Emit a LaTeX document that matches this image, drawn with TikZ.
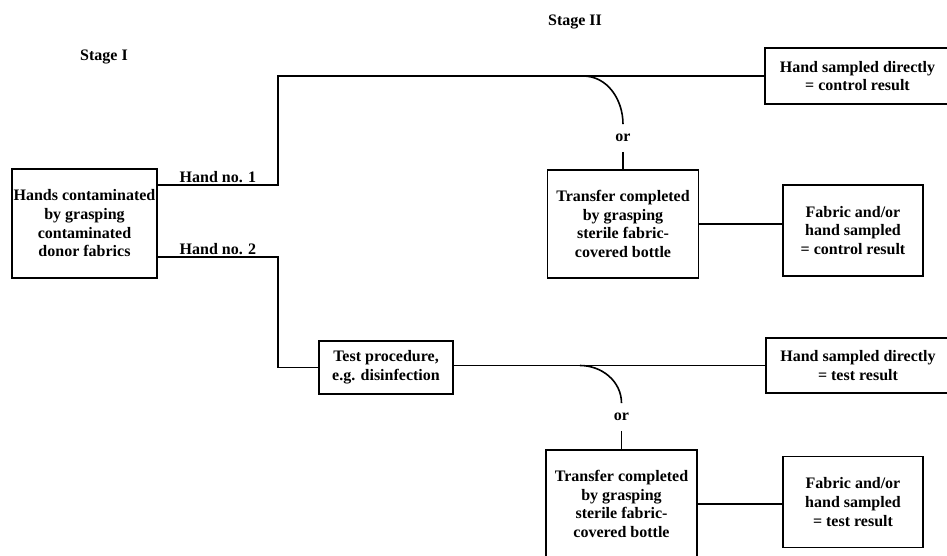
\documentclass[tikz,border=0pt]{standalone}
\usepackage{fontspec}
\setmainfont{Liberation Serif}
\usetikzlibrary{positioning}

\begin{document}
\begin{tikzpicture}[x=0.75pt,y=-0.75pt,line width=1.2pt,
  font=\fontsize{12}{14}\selectfont\bfseries,
  bx/.style={draw,rectangle,align=center,inner sep=1pt},
  lbl/.style={inner sep=1pt},
  orlbl/.style={inner sep=0pt,minimum height=19.5pt}]
\useasboundingbox (0,0) rectangle (947,556);
\clip (0,0) rectangle (947,556);
\node[lbl] (st1) at (104,57) {Stage I};
\node[lbl] (st2) at (575,22) {Stage II};
\node[bx,minimum width=108.75pt,minimum height=81.75pt] (donor) at (84.5,223.5)
  {Hands contaminated\\by grasping\\contaminated\\donor fabrics};
\node[bx,minimum width=100.5pt,minimum height=39.75pt] (test) at (386,367.5)
  {Test procedure,\\e.g. disinfection};
\node[bx,minimum width=138.75pt,minimum height=42pt] (ctrlD) at (857.5,76)
  {Hand sampled directly\\= control result};
\node[bx,minimum width=113.25pt,minimum height=81pt] (trans1) at (623,224)
  {Transfer completed\\by grasping\\sterile fabric-\\covered bottle};
\node[bx,minimum width=105pt,minimum height=68.25pt] (fab1) at (853,230.5)
  {Fabric and/or\\hand sampled\\= control result};
\node[bx,minimum width=138pt,minimum height=41.25pt] (testD) at (858,365.5)
  {Hand sampled directly\\= test result};
\node[bx,minimum width=113.25pt,minimum height=81pt] (trans2) at (621.5,504)
  {Transfer completed\\by grasping\\sterile fabric-\\covered bottle};
\node[bx,minimum width=105pt,minimum height=68.25pt] (fab2) at (853,502)
  {Fabric and/or\\hand sampled\\= test result};
\node[orlbl] (or1) at (trans1.center |- 0,138) {or};
\node[orlbl] (or2) at (trans2.center |- 0,417) {or};
\coordinate (h1) at (278,185);
\coordinate (h2) at (278,257);
\coordinate (cv1) at (583,76);
\coordinate (cv2) at (580,365.5);
\draw (donor.east |- h1) -- node[lbl,above]{Hand no. 1} (h1) |- (ctrlD.west);
\draw (donor.east |- h2) -- node[lbl,above]{Hand no. 2} (h2) |- (test.west);
\draw (test.east |- testD.west) -- (testD.west);
\draw (cv1) to[out=0,in=90] (or1.north);
\draw (cv2) to[out=0,in=90] (or2.north);
\draw (or1.south) -- (trans1.north);
\draw (or2.south) -- (trans2.north);
\draw (trans1.east) -- (trans1.east -| fab1.west);
\draw (trans2.east) -- (trans2.east -| fab2.west);
\end{tikzpicture}
\end{document}
